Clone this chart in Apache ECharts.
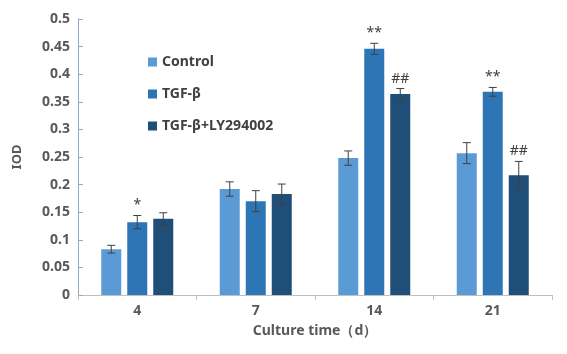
<!DOCTYPE html>
<html>
<head>
<meta charset="utf-8">
<script src="https://cdn.jsdelivr.net/npm/echarts@6/dist/echarts.min.js"></script>
<style>
  html, body { margin: 0; padding: 0; background: #fff; }
  #chart { width: 567px; height: 354px; }
</style>
</head>
<body>
<div id="chart"></div>
<script>
const categories = ['4', '7', '14', '21']
const seriesNames = ['Control', 'TGF-β', 'TGF-β+LY294002']
const controlVals = [0.083, 0.192, 0.248, 0.257]
const tgfVals = [0.132, 0.170, 0.446, 0.368]
const lyVals = [0.138, 0.183, 0.364, 0.217]
const controlErr = [0.007, 0.013, 0.013, 0.019]
const tgfErr = [0.012, 0.019, 0.010, 0.008]
const lyErr = [0.011, 0.018, 0.010, 0.025]
const tgfMarks = ['*', '', '**', '**']
const lyMarks = ['', '', '##', '##']

const colors = ['#5b9bd5', '#2e75b6', '#1f4e79']
const font = '"Noto Sans", "Open Sans", sans-serif'
const textColor = '#595959'

const chart = echarts.init(document.getElementById('chart'))

// 误差线 + 显著性标记
const errorSeries = (vals, errs, marks, offset) => ({
  type: 'custom',
  silent: true,
  z: 5,
  data: vals.map((v, i) => [i, v, errs[i]]),
  renderItem: (params, api) => {
    const i = api.value(0)
    const v = api.value(1)
    const e = api.value(2)
    const mark = (marks && marks[i]) || ''
    const top = api.coord([i, v + e])
    const bot = api.coord([i, v - e])
    const x = top[0] + offset
    const style = { stroke: '#404040', lineWidth: 1 }
    const children = [
      { type: 'line', shape: { x1: x, y1: top[1], x2: x, y2: bot[1] }, style },
      { type: 'line', shape: { x1: x - 4, y1: top[1], x2: x + 4, y2: top[1] }, style },
      { type: 'line', shape: { x1: x - 4, y1: bot[1], x2: x + 4, y2: bot[1] }, style }
    ]
    if (mark) {
      children.push({
        type: 'text',
        style: {
          text: mark, x: x, y: top[1] - 3,
          align: 'center', verticalAlign: 'bottom',
          fill: '#404040', font: '14px ' + font
        }
      })
    }
    return { type: 'group', children }
  }
})

const barSeries = (name, data, color) => ({
  name,
  type: 'bar',
  data,
  barWidth: 20,
  barGap: '30%',
  itemStyle: { color }
})

const option = {
  animation: false,
  grid: { left: 78, right: 15, top: 19, bottom: 59 },
  legend: {
    orient: 'vertical',
    left: 143,
    top: 50,
    itemWidth: 9,
    itemHeight: 9,
    itemGap: 18,
    icon: 'rect',
    data: seriesNames,
    textStyle: { color: '#404040', fontSize: 14, fontWeight: 'bold', fontFamily: font }
  },
  xAxis: {
    type: 'category',
    data: categories,
    name: 'Culture time（d）',
    nameLocation: 'middle',
    nameGap: 29,
    nameTextStyle: { color: textColor, fontSize: 14, fontWeight: 'bold', fontFamily: font },
    axisLine: { lineStyle: { color: '#bfbfbf' } },
    axisTick: { show: true, length: 5, lineStyle: { color: '#bfbfbf' } },
    axisLabel: { color: textColor, fontSize: 14, fontWeight: 'bold', fontFamily: font, margin: 9 }
  },
  yAxis: {
    type: 'value',
    min: 0,
    max: 0.5,
    interval: 0.05,
    name: 'IOD',
    nameLocation: 'middle',
    nameGap: 54,
    nameTextStyle: { color: textColor, fontSize: 13, fontWeight: 'bold', fontFamily: font },
    axisLine: { show: true, lineStyle: { color: '#8ea9c1' } },
    axisTick: { show: true, inside: true, length: 5, lineStyle: { color: '#8ea9c1' } },
    splitLine: { show: false },
    axisLabel: {
      color: textColor, fontSize: 14, fontWeight: 'bold', fontFamily: font, margin: 8,
      formatter: v => String(Math.round(v * 100) / 100)
    }
  },
  series: [
    barSeries(seriesNames[0], controlVals, colors[0]),
    barSeries(seriesNames[1], tgfVals, colors[1]),
    barSeries(seriesNames[2], lyVals, colors[2]),
    errorSeries(controlVals, controlErr, null, -26),
    errorSeries(tgfVals, tgfErr, tgfMarks, 0),
    errorSeries(lyVals, lyErr, lyMarks, 26)
  ]
}

chart.setOption(option)
</script>
</body>
</html>
